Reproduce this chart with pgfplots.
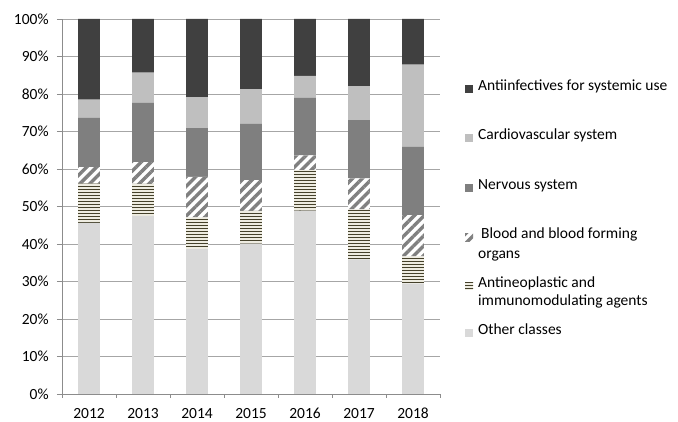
\documentclass[border=0pt]{standalone}
\usepackage{fontspec}
\setmainfont{Carlito}
\usepackage{pgfplots}
\usepackage{pgfplotstable}
\pgfplotsset{compat=1.18}
\usetikzlibrary{patterns.meta}
\definecolor{cAnti}{HTML}{404040}
\definecolor{cCardio}{HTML}{BFBFBF}
\definecolor{cNerv}{HTML}{7F7F7F}
\definecolor{cBlood}{HTML}{808080}
\definecolor{cNeoL}{HTML}{45412B}
\definecolor{cNeoB}{HTML}{EEECE1}
\definecolor{cOther}{HTML}{D9D9D9}
\definecolor{cGrid}{HTML}{A6A6A6}
\definecolor{cAxis}{HTML}{8C8C8C}
\pgfdeclarepatternformonly{hthick}{\pgfpoint{-1pt}{0pt}}{\pgfpoint{101pt}{3pt}}{\pgfpoint{100pt}{3pt}}{%
  \pgfsetlinewidth{1.7pt}\pgfpathmoveto{\pgfpoint{-1pt}{1.5pt}}\pgfpathlineto{\pgfpoint{101pt}{1.5pt}}\pgfusepath{stroke}}
\pgfplotstableread{
x Other Neo Blood Nerv Cardio Anti
0 45.6 10.5 4.4 13.2 4.8 21.5
1 47.5 8.5 5.8 15.9 8.0 14.3
2 38.6 8.5 10.8 13.0 8.2 20.9
3 40.1 8.7 8.2 15.0 9.3 18.7
4 48.9 10.8 3.9 15.4 5.8 15.2
5 35.9 13.3 8.3 15.5 9.0 18.0
6 29.4 7.3 11.0 18.2 21.9 12.2
}\data
\newcommand{\st}[1]{\rule{0pt}{#1}}
\pgfplotsset{sq/.style={legend image code/.code={\path[##1,draw=none] (0pt,-3pt) rectangle (8pt,5pt);}}}
\begin{document}
\fontsize{15.5}{19}\selectfont
\begin{tikzpicture}
\path[use as bounding box] (-62pt,-28pt) rectangle (616pt,394pt);
\begin{axis}[
  scale only axis, width=378pt, height=375pt,
  ybar stacked, bar width=21.6pt,
  xmin=-0.5, xmax=6.5, ymin=0, ymax=100,
  xtick={0,...,6}, xticklabels={2012,2013,2014,2015,2016,2017,2018},
  minor xtick={-0.5,0.5,...,6.5},
  ytick={0,10,...,100},
  yticklabels={0\%,10\%,20\%,30\%,40\%,50\%,60\%,70\%,80\%,90\%,100\%},
  axis x line*=bottom, axis y line*=left,
  axis line style={draw=cAxis, line width=0.8pt},
  ymajorgrids, major grid style={draw=cGrid, line width=0.8pt},
  tick align=outside, major tick length=5pt, minor tick length=4pt,
  tick style={draw=cAxis, line width=0.8pt},
  major x tick style={draw=none},
  tick label style={font=\fontsize{15.5}{19}\selectfont},
  xticklabel style={yshift=-4pt},
  yticklabel style={xshift=-3pt},
  reverse legend,
  legend style={at={(axis description cs:1.066,0.843)}, anchor=north west,
    draw=none, fill=none, inner sep=0pt, row sep=0pt, column sep=5pt,
    nodes={inner sep=0pt, anchor=base west},
    font=\fontsize{15.5}{19}\selectfont},
]
\addplot[fill=cOther, draw=none, sq] table[x=x,y=Other]{\data};
\addlegendentry{\st{44pt}Other classes}
\addplot[fill=cNeoB, draw=none, postaction={pattern=hthick, pattern color=cNeoL}, sq] table[x=x,y=Neo]{\data};
\addlegendentry{\vtop{\baselineskip=18pt\hbox{\st{46pt}Antineoplastic and}\hbox{immunomodulating agents}}}
\addplot[fill=white, draw=none, postaction={pattern={Lines[angle=45,distance=7pt,line width=3.4pt]}, pattern color=cBlood}, sq] table[x=x,y=Blood]{\data};
\addlegendentry{\vtop{\baselineskip=20pt\hbox{\st{46pt}\kern3pt Blood and blood forming}\hbox{organs}}}
\addplot[fill=cNerv, draw=none, sq] table[x=x,y=Nerv]{\data};
\addlegendentry{\st{47pt}Nervous system}
\addplot[fill=cCardio, draw=none, sq] table[x=x,y=Cardio]{\data};
\addlegendentry{\st{46pt}Cardiovascular system}
\addplot[fill=cAnti, draw=none, sq] table[x=x,y=Anti]{\data};
\addlegendentry{\st{12pt}Antiinfectives for systemic use}
\end{axis}
\end{tikzpicture}
\end{document}
